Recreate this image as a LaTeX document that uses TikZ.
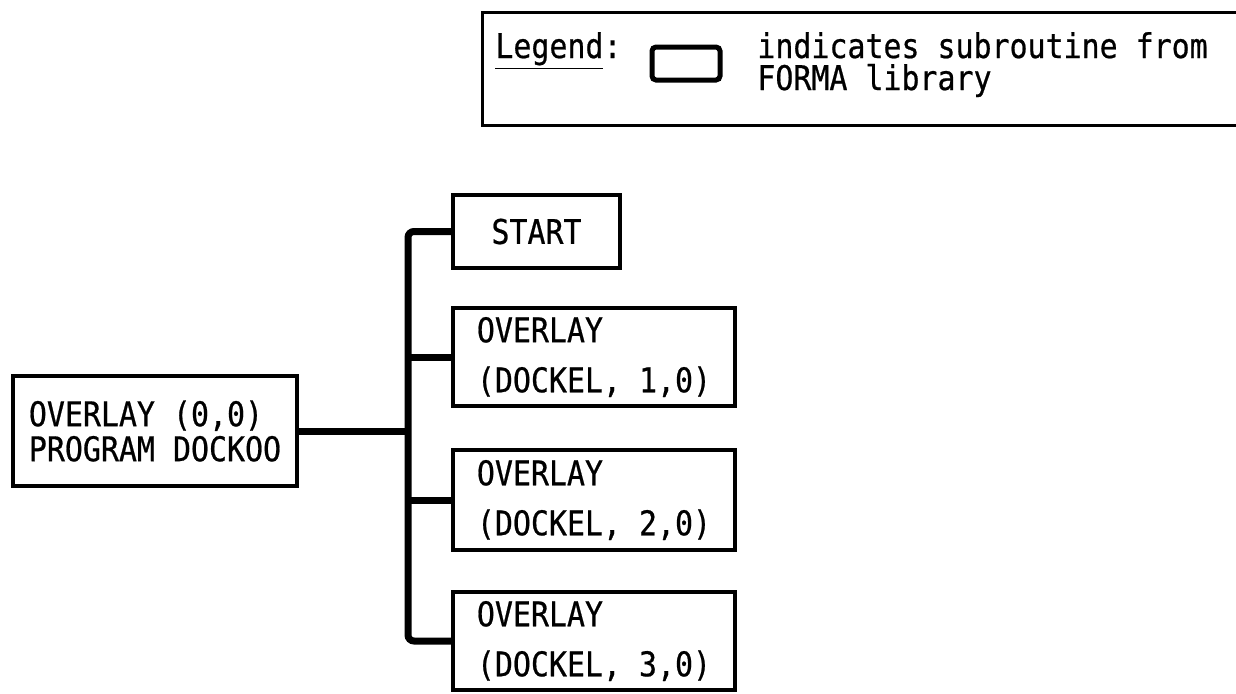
\documentclass[tikz,border=0pt]{standalone}
\usepackage{fontspec}
\newfontfamily\lpfont[FakeStretch=0.88,FakeBold=0.6]{DejaVu Sans Mono}

\begin{document}
\begin{tikzpicture}[x=0.5pt,y=-0.5pt,font=\lpfont\fontsize{17}{16}\selectfont,
  box/.style={draw,line width=2pt,inner sep=0pt,align=left,font=\lpfont\fontsize{17}{25}\selectfont},
  prog/.style={box,font=\lpfont\fontsize{17}{17.5}\selectfont},
  link/.style={line width=3.5pt}]
  \useasboundingbox (0,0) rectangle (1236,693);
  % legend
  \draw[line width=1.5pt] (482,12) rectangle (1270,125);
  \node[anchor=base west,inner sep=0pt] (leg) at (495,58) {\underline{Legend}:};
  \node[draw,line width=2.5pt,rounded corners=2pt,minimum width=34pt,minimum height=16.5pt] (key) at (686,63.5) {};
  \node[anchor=base west,inner sep=0pt,align=left] (keytxt) at (757,90) {indicates subroutine from\\FORMA library};
  % overlay tree
  \node[prog,minimum width=142pt,minimum height=55pt] (main) at (155,431) {OVERLAY (0,0)\\PROGRAM DOCKOO};
  \node[box,minimum width=83.5pt,minimum height=36.5pt] (start) at (536.5,231.5) {START};
  \node[box,minimum width=141pt,minimum height=49pt] (d1) at (594,357) {OVERLAY\\(DOCKEL, 1,0)};
  \node[box,minimum width=141pt,minimum height=50pt] (d2) at (594,500) {OVERLAY\\(DOCKEL, 2,0)};
  \node[box,minimum width=141pt,minimum height=49pt] (d3) at (594,641) {OVERLAY\\(DOCKEL, 3,0)};
  \coordinate (j) at (408,431);
  \draw[link,rounded corners=3pt] (start.west) -| (j) |- (d3.west);
  \draw[link] (main.east) -- (j);
  \draw[link] (j |- d1.west) -- (d1.west);
  \draw[link] (j |- d2.west) -- (d2.west);
\end{tikzpicture}
\end{document}
